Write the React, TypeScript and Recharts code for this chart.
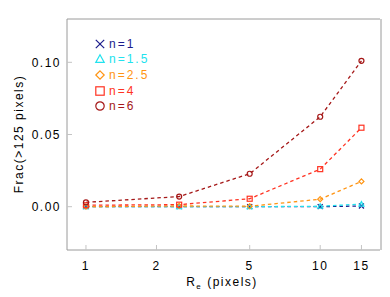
import React from 'react'
import { LineChart, Line, XAxis, YAxis } from 'recharts'

// effective radius (pixels) and fraction of sources > 125 pixels
const radii = [1, 2.5, 5, 10, 15]
const fracN1 = [0, 0, 0, 0, 0.0005]
const fracN15 = [0, 0, 0, 0.0003, 0.0018]
const fracN25 = [0, 0.0005, 0.0003, 0.0052, 0.0175]
const fracN4 = [0.001, 0.0014, 0.0055, 0.026, 0.0547]
const fracN6 = [0.003, 0.007, 0.0228, 0.0623, 0.101]

const xTicks = [1, 2, 5, 10, 15]
const yTicks = [0, 0.05, 0.1]
const yMinorTicks = [-0.02, -0.01, 0.01, 0.02, 0.03, 0.04, 0.06, 0.07, 0.08, 0.09, 0.11, 0.12]

const series = [
  { key: 'n1', name: 'n=1', color: '#1c1c8c', shape: 'x', values: fracN1 },
  { key: 'n15', name: 'n=1.5', color: '#22e2ee', shape: 'triangle', values: fracN15 },
  { key: 'n25', name: 'n=2.5', color: '#ff9412', shape: 'diamond', values: fracN25 },
  { key: 'n4', name: 'n=4', color: '#ff3322', shape: 'square', values: fracN4 },
  { key: 'n6', name: 'n=6', color: '#a51818', shape: 'circle', values: fracN6 },
]

const rows = radii.map((re, i) => {
  const row: Record<string, number> = { re }
  series.forEach((s) => {
    row[s.key] = s.values[i]
  })
  return row
})

const FONT = '"Liberation Sans", Arial, Helvetica, sans-serif'
const FRAME = '#9a9a9a'
const TICK = '#c4c4c4'
const X_DOMAIN: [number, number] = [0.83, 18]
const Y_DOMAIN: [number, number] = [-0.03, 0.13]

function Marker({ shape, cx, cy, r, color }: { shape: string; cx: number; cy: number; r: number; color: string }) {
  const sw = 1.2
  if (shape === 'x') {
    return (
      <g stroke={color} strokeWidth={sw}>
        <line x1={cx - r} y1={cy - r} x2={cx + r} y2={cy + r} />
        <line x1={cx - r} y1={cy + r} x2={cx + r} y2={cy - r} />
      </g>
    )
  }
  if (shape === 'triangle') {
    return (
      <polygon
        points={`${cx},${cy - r} ${cx + r},${cy + r * 0.8} ${cx - r},${cy + r * 0.8}`}
        fill="none"
        stroke={color}
        strokeWidth={sw}
      />
    )
  }
  if (shape === 'diamond') {
    return (
      <polygon
        points={`${cx},${cy - r} ${cx + r},${cy} ${cx},${cy + r} ${cx - r},${cy}`}
        fill="none"
        stroke={color}
        strokeWidth={sw}
      />
    )
  }
  if (shape === 'square') {
    return <rect x={cx - r} y={cy - r} width={2 * r} height={2 * r} fill="none" stroke={color} strokeWidth={sw} />
  }
  return <circle cx={cx} cy={cy} r={r} fill="none" stroke={color} strokeWidth={sw} />
}

const XTick = (props: any) => {
  const { x, y, payload } = props
  return (
    <text x={x} y={y} dy="0.71em" textAnchor="middle" fill="#000" fontSize={12} fontFamily={FONT} style={{ letterSpacing: '1.5px' }}>
      {payload.value}
    </text>
  )
}

const YTick = (props: any) => {
  const { x, y, payload } = props
  return (
    <text x={x} y={y} dy="0.36em" textAnchor="end" fill="#000" fontSize={12} fontFamily={FONT} style={{ letterSpacing: '1.5px' }}>
      {Number(payload.value).toFixed(2)}
    </text>
  )
}

export default function App() {
  return (
    <div style={{ position: 'absolute', left: 0, top: 0, width: 390, height: 297, background: '#fff' }}>
      <LineChart width={390} height={297} data={rows} margin={{ top: 18, right: 8, bottom: 46, left: 65 }}>
        <XAxis
          dataKey="re"
          type="number"
          scale="log"
          domain={X_DOMAIN}
          allowDataOverflow
          ticks={xTicks}
          height={1}
          stroke={FRAME}
          tickLine={{ stroke: TICK }}
          tickSize={-5}
          tickMargin={16}
          tick={<XTick />}
        />
        <XAxis
          xAxisId="top"
          orientation="top"
          type="number"
          scale="log"
          domain={X_DOMAIN}
          allowDataOverflow
          ticks={xTicks}
          height={1}
          stroke={FRAME}
          tickLine={{ stroke: TICK }}
          tickSize={-5}
          tick={false}
        />
        <YAxis
          type="number"
          domain={Y_DOMAIN}
          allowDataOverflow
          ticks={yTicks}
          width={1}
          stroke={FRAME}
          tickLine={{ stroke: TICK }}
          tickSize={-5}
          tickMargin={11}
          tick={<YTick />}
        />
        <YAxis
          yAxisId="minorL"
          type="number"
          domain={Y_DOMAIN}
          allowDataOverflow
          ticks={yMinorTicks}
          width={1}
          axisLine={false}
          tickLine={{ stroke: TICK }}
          tickSize={-3}
          tick={false}
        />
        <YAxis
          yAxisId="right"
          orientation="right"
          type="number"
          domain={Y_DOMAIN}
          allowDataOverflow
          ticks={yTicks}
          width={1}
          stroke={FRAME}
          tickLine={{ stroke: TICK }}
          tickSize={-5}
          tick={false}
        />
        <YAxis
          yAxisId="minorR"
          orientation="right"
          type="number"
          domain={Y_DOMAIN}
          allowDataOverflow
          ticks={yMinorTicks}
          width={1}
          axisLine={false}
          tickLine={{ stroke: TICK }}
          tickSize={-3}
          tick={false}
        />
        {series.map((s) => (
          <Line
            key={s.key}
            type="linear"
            dataKey={s.key}
            stroke={s.color}
            strokeWidth={1.3}
            strokeDasharray="3.5 3"
            isAnimationActive={false}
            dot={(p: any) => <Marker key={`${s.key}-${p.index}`} shape={s.shape} cx={p.cx} cy={p.cy} r={2.5} color={s.color} />}
            activeDot={false}
          />
        ))}
      </LineChart>

      <div
        style={{
          position: 'absolute',
          left: 19,
          top: 134,
          transform: 'translate(-50%, -50%) rotate(-90deg)',
          whiteSpace: 'nowrap',
          fontFamily: FONT,
          fontSize: 12,
          letterSpacing: '1.5px',
          color: '#000',
        }}
      >
        Frac(&gt;125 pixels)
      </div>

      <div
        style={{
          position: 'absolute',
          left: 222,
          top: 283,
          transform: 'translate(-50%, -50%)',
          whiteSpace: 'nowrap',
          fontFamily: FONT,
          fontSize: 12,
          letterSpacing: '1.5px',
          color: '#000',
        }}
      >
        R<sub style={{ fontSize: 8 }}>e</sub> (pixels)
      </div>

      <div style={{ position: 'absolute', left: 94, top: 36 }}>
        {series.map((s) => (
          <div key={s.key} style={{ display: 'flex', alignItems: 'center', height: 15.6 }}>
            <svg width={12} height={12} style={{ marginRight: 3 }}>
              <Marker shape={s.shape} cx={6} cy={6} r={4.2} color={s.color} />
            </svg>
            <span style={{ fontFamily: FONT, fontSize: 12, letterSpacing: '2px', color: s.color, whiteSpace: 'nowrap' }}>
              {s.name}
            </span>
          </div>
        ))}
      </div>
    </div>
  )
}
